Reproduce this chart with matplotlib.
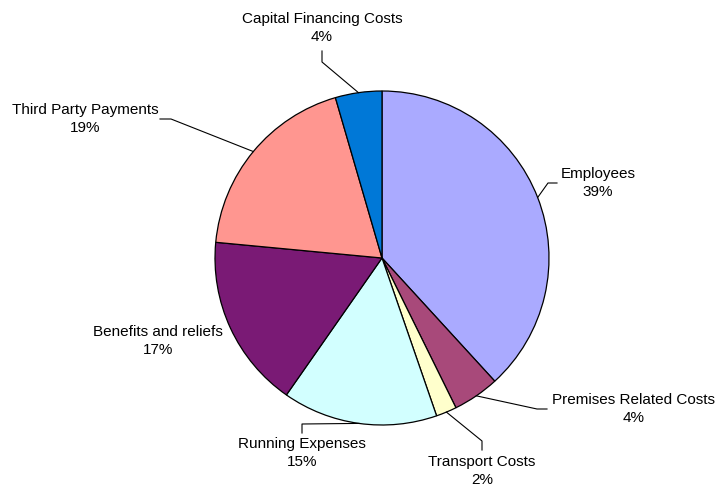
import matplotlib.pyplot as plt
import numpy as np

# data
categories = ["Employees", "Premises Related Costs", "Transport Costs", "Running Expenses",
              "Benefits and reliefs", "Third Party Payments", "Capital Financing Costs"]
values = [38.2, 4.5, 2.0, 15.0, 16.8, 19.0, 4.5]
pct_labels = ["39%", "4%", "2%", "15%", "17%", "19%", "4%"]
colors = ["#AAAAFF", "#A8497A", "#FFFFCC", "#D2FFFF", "#7A1A75", "#FF9690", "#0078D7"]

W, H = 720, 487
cx, cy, r = 382, 258, 167  # pie centre / radius in image pixels

# label layout in image pixels: text centre, elbow points of the leader line
text_pos = [(598, 183), (634, 409), (482, 471), (302, 453), (158, 341), (85, 119), (322, 28)]
elbows = [
    [(548, 183), (557, 183)],
    [(537, 409), (547, 409)],
    [(482, 441), (482, 450)],
    [(302, 424), (302, 433)],
    None,
    [(171, 119), (160, 119)],
    [(322, 62), (322, 51)],
]

plt.rcParams['font.family'] = ['Liberation Sans', 'DejaVu Sans']

fig = plt.figure(figsize=(W / 100, H / 100), dpi=100)
ax = fig.add_axes([0, 0, 1, 1])

wedges, _ = ax.pie(values, colors=colors, startangle=90, counterclock=False,
                   center=(cx, H - cy), radius=r,
                   wedgeprops=dict(edgecolor="black", linewidth=0.9))

ax.set_xlim(0, W)
ax.set_ylim(0, H)
ax.set_aspect("auto")
ax.axis("off")

for i, w in enumerate(wedges):
    mid = np.deg2rad((w.theta1 + w.theta2) / 2)
    ax_x = cx + r * np.cos(mid)
    ax_y = (H - cy) + r * np.sin(mid)
    tx, ty = text_pos[i]
    ax.text(tx, H - ty, f"{categories[i]}\n{pct_labels[i]}", ha="center", va="center",
            fontsize=11, linespacing=1.45, color="black")
    if elbows[i] is not None:
        xs = [ax_x] + [p[0] for p in elbows[i]]
        ys = [ax_y] + [H - p[1] for p in elbows[i]]
        ax.plot(xs, ys, color="black", linewidth=0.8)

fig.savefig("out.png", dpi=100)
